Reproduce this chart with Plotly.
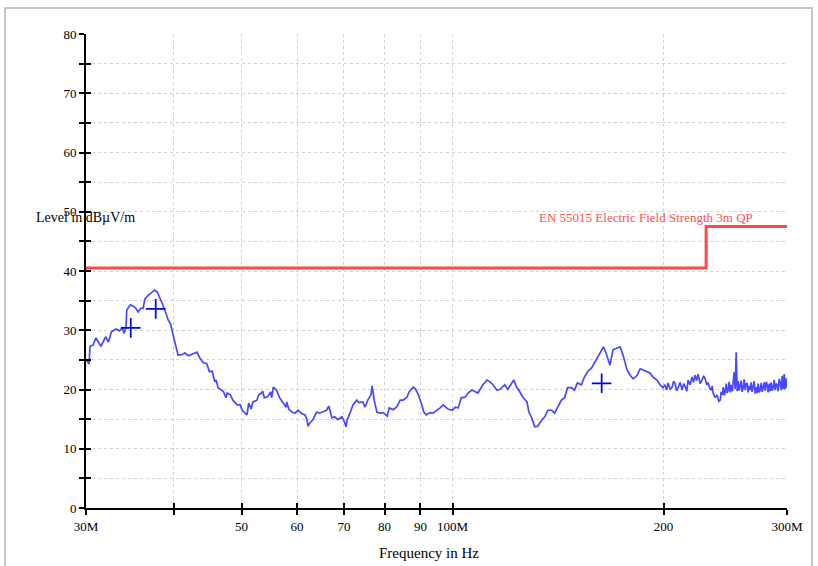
import plotly.graph_objects as go

# Measured field strength (peak scan), frequency in MHz, level in dBµV/m
freq_mhz = [
    30.0, 30.3, 30.4, 30.7, 31.0, 31.5, 32.0, 32.3, 32.6, 33.1, 33.5, 33.8, 34.0, 34.2,
    34.3, 34.7, 35.0, 35.3, 35.6, 35.9, 36.2, 36.4, 36.8, 37.2, 37.6, 37.9, 38.2, 38.6,
    39.0, 39.3, 39.6, 40.0, 40.2, 40.6, 41.2, 41.5, 42.0, 42.6, 43.2, 43.6, 44.1, 44.6,
    45.0, 45.4, 45.8, 46.0, 46.3, 46.8, 47.1, 47.5, 47.7, 48.2, 48.6, 49.3, 49.8, 50.1,
    50.6, 50.9, 51.2, 51.6, 51.9, 52.6, 52.9, 53.4, 53.6, 53.9, 54.5, 55.0, 55.2, 55.5,
    56.1, 56.6, 57.2, 57.9, 58.0, 58.4, 59.0, 59.6, 60.2, 61.0, 61.6, 62.0, 62.2, 62.6,
    63.2, 64.0, 64.6, 65.3, 66.1, 66.6, 67.3, 67.9, 68.6, 69.5, 70.0, 70.5, 70.7, 71.4,
    72.1, 73.0, 73.5, 74.5, 75.0, 75.7, 76.5, 76.8, 77.3, 78.0, 78.8, 79.6, 80.7, 81.2,
    82.3, 83.3, 84.2, 85.0, 86.1, 86.7, 87.9, 88.5, 89.4, 90.4, 91.0, 91.7, 92.9, 93.8,
    95.2, 96.0, 97.0, 97.9, 98.5, 99.9, 100.9, 101.9, 102.9, 104.2, 105.2, 106.6, 107.7,
    108.7, 110.5, 112.0, 113.1, 114.2, 115.7, 116.8, 118.7, 119.9, 121.5, 122.3, 123.5,
    124.3, 126.0, 127.7, 128.5, 129.7, 131.0, 132.3, 134.1, 135.4, 136.7, 138.5, 139.8,
    141.2, 143.0, 144.5, 145.9, 147.8, 149.3, 150.7, 152.7, 154.2, 155.8, 157.8, 159.4,
    161.0, 163.1, 164.2, 165.5, 166.6, 167.7, 169.4, 171.7, 173.4, 175.1, 177.4, 179.2,
    181.0, 183.4, 185.2, 187.0, 189.4, 191.3, 193.2, 195.7, 197.7, 199.6, 200.9, 202.0,
    203.0, 204.4, 205.7, 206.7, 207.7, 208.8, 209.8, 211.2, 212.6, 213.6, 214.7, 215.8,
    216.8, 218.2, 219.6, 220.7, 221.8, 222.9, 224.0, 225.5, 227.0, 228.1, 229.2, 230.4,
    231.5, 232.7, 233.8, 234.6, 235.4, 236.9, 238.5, 239.7, 240.9, 241.7, 242.5, 243.3,
    244.1, 244.9, 245.7, 246.5, 247.3, 248.1, 249.0, 249.8, 250.6, 251.4, 252.2, 253.0,
    253.9, 254.7, 255.5, 256.4, 257.2, 258.1, 258.9, 259.8, 260.6, 261.5, 262.3, 263.2,
    264.0, 264.9, 265.8, 266.6, 267.5, 268.4, 269.3, 270.2, 271.1, 272.0, 272.9, 273.8,
    274.7, 275.6, 276.5, 277.4, 278.3, 279.2, 280.2, 281.1, 282.0, 283.0, 283.9, 284.8,
    285.8, 286.7, 287.6, 288.6, 289.5, 290.5, 291.4, 292.4, 293.4, 294.3, 295.3, 296.3,
    297.3, 298.0, 299.0, 300.0,
]
level_dbuv = [
    25.1, 24.3, 27.3, 27.5, 28.7, 27.3, 28.9, 28.0, 29.7, 30.2, 29.9, 30.4, 29.5, 30.4,
    33.4, 34.3, 34.1, 33.8, 33.1, 33.7, 33.7, 35.3, 35.9, 36.3, 36.8, 36.5, 35.6, 34.3,
    32.9, 31.7, 31.1, 28.7, 27.8, 25.8, 25.9, 26.2, 25.7, 26.0, 26.3, 25.3, 24.5, 24.4,
    23.0, 23.1, 21.3, 21.6, 20.3, 19.9, 19.7, 18.6, 19.4, 19.1, 18.2, 17.4, 17.4, 16.5,
    16.0, 15.7, 17.7, 16.7, 17.9, 18.2, 19.1, 19.4, 19.7, 18.6, 18.8, 19.6, 18.6, 20.4,
    19.9, 18.7, 17.9, 17.0, 17.9, 16.7, 16.2, 16.0, 16.5, 15.9, 15.7, 14.9, 13.8, 14.4,
    14.9, 16.2, 16.0, 16.2, 16.5, 17.2, 15.2, 15.4, 14.9, 15.4, 14.7, 13.7, 14.8, 16.0,
    17.4, 18.2, 17.8, 17.9, 17.0, 18.2, 19.1, 20.6, 18.2, 16.2, 16.0, 16.1, 15.5, 16.9,
    16.6, 17.1, 18.2, 18.2, 18.7, 19.6, 20.4, 20.1, 19.1, 17.4, 16.2, 15.7, 16.1, 16.0,
    16.5, 16.9, 17.4, 16.9, 16.7, 16.5, 17.0, 16.9, 18.6, 18.7, 19.4, 19.9, 19.6,
    19.4, 20.8, 21.6, 21.3, 20.8, 19.9, 20.0, 20.8, 20.0, 21.1, 21.6, 20.3,
    19.9, 18.7, 17.9, 16.2, 15.2, 13.7, 13.8, 14.9, 15.4, 16.5, 16.5, 16.0,
    16.9, 18.2, 18.6, 20.3, 20.3, 19.9, 21.1, 20.8, 22.1, 23.0, 23.6, 24.5,
    25.5, 26.7, 27.2, 26.2, 25.0, 24.1, 26.7, 27.0, 27.2, 25.8, 23.3, 22.4,
    21.8, 22.4, 23.5, 23.3, 23.0, 22.8, 22.1, 21.6, 20.8, 20.3, 20.8, 19.9,
    21.1, 20.0, 20.4, 21.4, 21.0, 19.8, 20.3, 21.2, 19.9, 21.0, 20.5, 19.7,
    21.6, 20.8, 22.1, 21.2, 22.4, 21.5, 22.6, 21.0, 21.6, 22.3, 21.9, 20.9,
    21.1, 20.2, 19.9, 20.6, 19.4, 18.6, 19.1, 18.0, 18.2, 19.6, 19.1, 20.4,
    19.0, 19.7, 21.0, 19.4, 19.9, 21.3, 19.5, 20.8, 19.7, 21.6, 22.9, 20.1,
    26.3, 19.7, 21.4, 19.8, 20.8, 21.5, 19.6, 20.3, 21.7, 19.9, 20.9, 21.1,
    19.5, 20.6, 19.9, 21.2, 19.6, 20.6, 21.4, 19.3, 20.4, 19.4, 21.0, 19.5,
    19.9, 21.1, 19.6, 20.3, 21.2, 19.8, 21.3, 20.8, 19.5, 21.0, 19.7, 21.2,
    19.8, 20.3, 21.6, 19.9, 21.0, 20.8, 19.7, 21.8, 21.1, 19.9, 22.3, 20.1,
    22.6, 20.0, 21.9, 20.3,
]

# EN 55015 radiated limit, 3 m, quasi-peak
limit_freq_mhz = [30, 230, 230, 300]
limit_level = [40.5, 40.5, 47.5, 47.5]

# Final quasi-peak measurement points
qp_freq_mhz = [34.75, 37.72, 163.2]
qp_level = [30.4, 33.6, 21.05]

x_tickvals = [30, 40, 50, 60, 70, 80, 90, 100, 200, 300]
x_ticktext = ["30M", "", "50", "60", "70", "80", "90", "100M", "200", "300M"]
y_tickvals = list(range(0, 81, 5))
y_ticktext = [str(v) if v % 10 == 0 else "" for v in y_tickvals]

SERIF = "Liberation Serif"
GRID = "#d2d2d2"

fig = go.Figure()
fig.add_trace(go.Scatter(
    x=freq_mhz, y=level_dbuv, mode="lines",
    line=dict(color="#4848ff", width=1.7), showlegend=False, hoverinfo="skip",
))
fig.add_trace(go.Scatter(
    x=limit_freq_mhz, y=limit_level, mode="lines",
    line=dict(color="#ff4a4a", width=3), showlegend=False, hoverinfo="skip",
))
fig.add_trace(go.Scatter(
    x=qp_freq_mhz, y=qp_level, mode="markers", xaxis="x2", yaxis="y2",
    marker=dict(symbol="cross-thin", size=14, line=dict(color="#0000f0", width=1.7)),
    showlegend=False, hoverinfo="skip",
))

xr = [1.4771212547, 2.4771212547]
axis_common = dict(showline=True, linecolor="black", linewidth=2, tickcolor="black",
                   tickwidth=2, ticklen=5, zeroline=False,
                   tickfont=dict(family=SERIF, size=13, color="black"))

fig.update_layout(
    width=818, height=566,
    margin=dict(l=86, r=31, t=34, b=58),
    paper_bgcolor="white", plot_bgcolor="white",
    font=dict(family=SERIF, color="black"),
    xaxis=dict(type="log", range=xr, tickmode="array", tickvals=x_tickvals,
               ticktext=x_ticktext, ticks="outside", showgrid=True, gridcolor=GRID,
               griddash="dot", gridwidth=1, **axis_common),
    yaxis=dict(range=[0, 80], tickmode="array", tickvals=y_tickvals, ticktext=y_ticktext,
               ticks="outside", showgrid=True, gridcolor=GRID, griddash="dot",
               gridwidth=1, **axis_common),
    xaxis2=dict(type="log", range=xr, overlaying="x", anchor="y", tickmode="array",
                tickvals=x_tickvals, ticks="inside", showticklabels=False,
                showgrid=False, showline=False, zeroline=False, tickcolor="black",
                tickwidth=2, ticklen=5),
    yaxis2=dict(range=[0, 80], overlaying="y", anchor="x", side="left", tickmode="array",
                tickvals=y_tickvals, ticks="inside", showticklabels=False,
                showgrid=False, showline=False, zeroline=False, tickcolor="black",
                tickwidth=2, ticklen=5),
    annotations=[
        dict(text="Level in dBµV/m", xref="paper", yref="paper", x=-0.0742, y=0.612,
             xanchor="left", yanchor="middle", showarrow=False,
             font=dict(family=SERIF, size=14, color="black")),
        dict(text="Frequency in Hz", xref="paper", yref="paper", x=0.49, y=-0.095,
             xanchor="center", yanchor="middle", showarrow=False,
             font=dict(family=SERIF, size=15, color="black")),
        dict(text="EN 55015 Electric Field Strength 3m QP", xref="paper", yref="paper",
             x=0.6434, y=0.612, xanchor="left", yanchor="middle", showarrow=False,
             font=dict(family=SERIF, size=13, color="#ff5050")),
    ],
    shapes=[
        dict(type="rect", xref="paper", yref="paper", x0=-0.1155, x1=1.0357,
             y0=-0.14, y1=1.0549, line=dict(color="#b4b4b4", width=1.5),
             fillcolor="rgba(0,0,0,0)", layer="below"),
    ],
)

fig.write_html("out.html")
